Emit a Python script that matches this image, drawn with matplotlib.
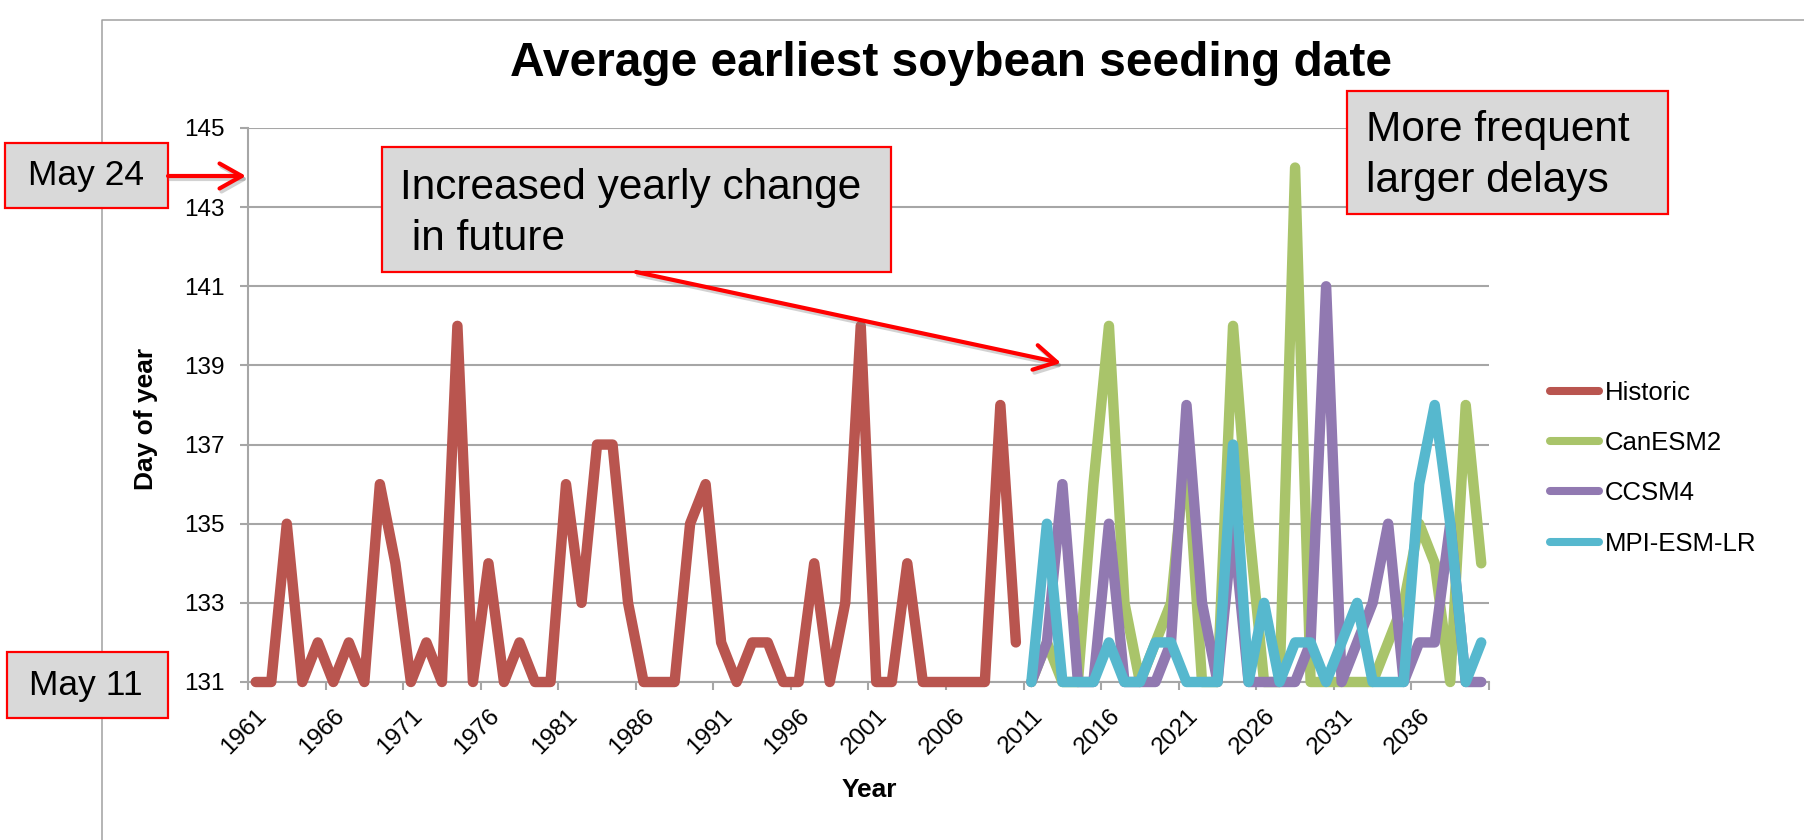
import numpy as np
import matplotlib
matplotlib.use("Agg")
import matplotlib.pyplot as plt
from matplotlib.lines import Line2D
from matplotlib.patches import Rectangle, FancyArrowPatch, ArrowStyle

plt.rcParams['font.family'] = ['Liberation Sans', 'DejaVu Sans']

# ---- data -------------------------------------------------------------
years = list(range(1961, 2041))

historic = [131, 131, 135, 131, 132, 131, 132, 131, 136, 134,   # 1961-1970
            131, 132, 131, 140, 131, 134, 131, 132, 131, 131,   # 1971-1980
            136, 133, 137, 137, 133, 131, 131, 131, 135, 136,   # 1981-1990
            132, 131, 132, 132, 131, 131, 134, 131, 133, 140,   # 1991-2000
            131, 131, 134, 131, 131, 131, 131, 131, 138, 132]   # 2001-2010

canesm2 = [131, 132, 131, 131, 136, 140, 133, 131, 132, 133,    # 2011-2020
           137, 131, 131, 140, 135, 131, 131, 144, 131, 131,    # 2021-2030
           131, 131, 131, 132, 133, 135, 134, 131, 138, 134]    # 2031-2040

ccsm4 = [131, 132, 136, 131, 131, 135, 131, 131, 131, 132,
         138, 133, 131, 135, 131, 131, 131, 131, 132, 141,
         131, 132, 133, 135, 131, 132, 132, 135, 131, 131]

mpi_esm_lr = [131, 135, 131, 131, 131, 132, 131, 131, 132, 132,
              131, 131, 131, 137, 131, 133, 131, 132, 132, 131,
              132, 133, 131, 131, 131, 136, 138, 135, 131, 132]

series_names = ["Historic", "CanESM2", "CCSM4", "MPI-ESM-LR"]
series_start = [1961, 2011, 2011, 2011]
series_values = [historic, canesm2, ccsm4, mpi_esm_lr]
series_colors = ["#B9554F", "#A9C46A", "#9179B1", "#56B8CE"]

y_ticks = list(range(131, 146, 2))
label_years = years[::5]

# ---- figure ------------------------------------------------------------
W, H = 1804, 840
fig = plt.figure(figsize=(W / 100, H / 100), dpi=100)


def fpt(x, y):
    """pixel position (from top-left) -> figure fraction"""
    return (x / W, 1 - y / H)


GRID = "#A6A6A6"

# outer chart frame (top and left edges)
fig.add_artist(Line2D([102 / W, 102 / W, 1.0], [0.0, 1 - 20 / H, 1 - 20 / H],
                      transform=fig.transFigure, color="#A0A0A0", lw=1.1))

ax_l, ax_r, ax_t, ax_b = 248, 1489, 128, 682
ax = fig.add_axes([ax_l / W, 1 - ax_b / H, (ax_r - ax_l) / W, (ax_b - ax_t) / H])
ax.set_xlim(0, len(years))
ax.set_ylim(131, 145)

for name, start, vals, col in zip(series_names, series_start, series_values, series_colors):
    x = np.arange(len(vals)) + (start - years[0]) + 0.5
    ax.plot(x, vals, color=col, lw=7.5, solid_capstyle="round",
            solid_joinstyle="round", clip_on=False, zorder=3, label=name)

# axes styling
for side in ("top", "right"):
    ax.spines[side].set_visible(False)
for side in ("left", "bottom"):
    ax.spines[side].set_color(GRID)
    ax.spines[side].set_linewidth(1.5)
ax.set_yticks(y_ticks)
ax.yaxis.grid(True, color=GRID, lw=1.5)
ax.set_axisbelow(True)
ax.tick_params(axis="y", direction="out", length=5.8, width=1.5, color=GRID,
               labelsize=17.5, pad=11)

ax.set_xticks(range(0, len(years) + 1, 5))
ax.set_xticklabels([])
ax.tick_params(axis="x", which="major", direction="out", length=5.8, width=1.5, color=GRID)
ax.set_xticks([y - years[0] + 0.5 for y in label_years], minor=True)
ax.set_xticklabels([str(y) for y in label_years], minor=True)
ax.tick_params(axis="x", which="minor", length=0, labelsize=17.5, pad=16.5)
for lbl in ax.get_xticklabels(minor=True):
    lbl.set_rotation(45)
    lbl.set_ha("right")
    lbl.set_rotation_mode("anchor")

# titles
fig.text(*fpt(951, 76), "Average earliest soybean seeding date", ha="center",
         va="baseline", fontsize=34.5, fontweight="bold")
fig.text(*fpt(146, 419), "Day of year", rotation=90, ha="center", va="center",
         fontsize=19, fontweight="bold")
fig.text(*fpt(869, 790), "Year", ha="center", va="center", fontsize=19,
         fontweight="bold")

# legend
handles = [Line2D([], [], color=c, lw=5.8, solid_capstyle="round") for c in series_colors]
ax.legend(handles, series_names, loc="upper left", bbox_to_anchor=fpt(1550, 381),
          bbox_transform=fig.transFigure, frameon=False, fontsize=18.5,
          handlelength=1.9, handletextpad=0.25, labelspacing=1.02,
          borderpad=0, borderaxespad=0)


# callout boxes and arrows
def box(x0, y0, x1, y1):
    fig.add_artist(Rectangle(fpt(x0, y1), (x1 - x0) / W, (y1 - y0) / H,
                             transform=fig.transFigure, facecolor="#D9D9D9",
                             edgecolor="#FF0000", lw=1.6, zorder=5))


def arrow(p0, p1):
    style = ArrowStyle("->", head_length=16, head_width=9)
    for dx, dy, col, a, z in ((2, 3, "#7F7F7F", 0.35, 5), (0, 0, "#FF0000", 1.0, 6)):
        fig.add_artist(FancyArrowPatch(fpt(p0[0] + dx, p0[1] + dy), fpt(p1[0] + dx, p1[1] + dy),
                                       transform=fig.transFigure, arrowstyle=style,
                                       mutation_scale=1, color=col, alpha=a, lw=3,
                                       shrinkA=0, shrinkB=0, zorder=z))


box(5, 143, 168, 208)
fig.text(*fpt(86, 176), "May 24", ha="center", va="center", fontsize=25.5, zorder=7)
arrow((168, 176), (246, 176))

box(7, 652, 168, 718)
fig.text(*fpt(86, 685), "May 11", ha="center", va="center", fontsize=25.5, zorder=7)

# multi-line labels: the anchor is the baseline of the last line
box(382, 147, 891, 272)
fig.text(*fpt(400, 250), "Increased yearly change\n in future", ha="left",
         va="baseline", fontsize=30.5, linespacing=1.36, zorder=7)
arrow((636, 272), (1061, 363))

box(1347, 91, 1668, 214)
fig.text(*fpt(1366, 192), "More frequent\nlarger delays", ha="left",
         va="baseline", fontsize=30.5, linespacing=1.34, zorder=7)

fig.savefig("out.png", dpi=100)
